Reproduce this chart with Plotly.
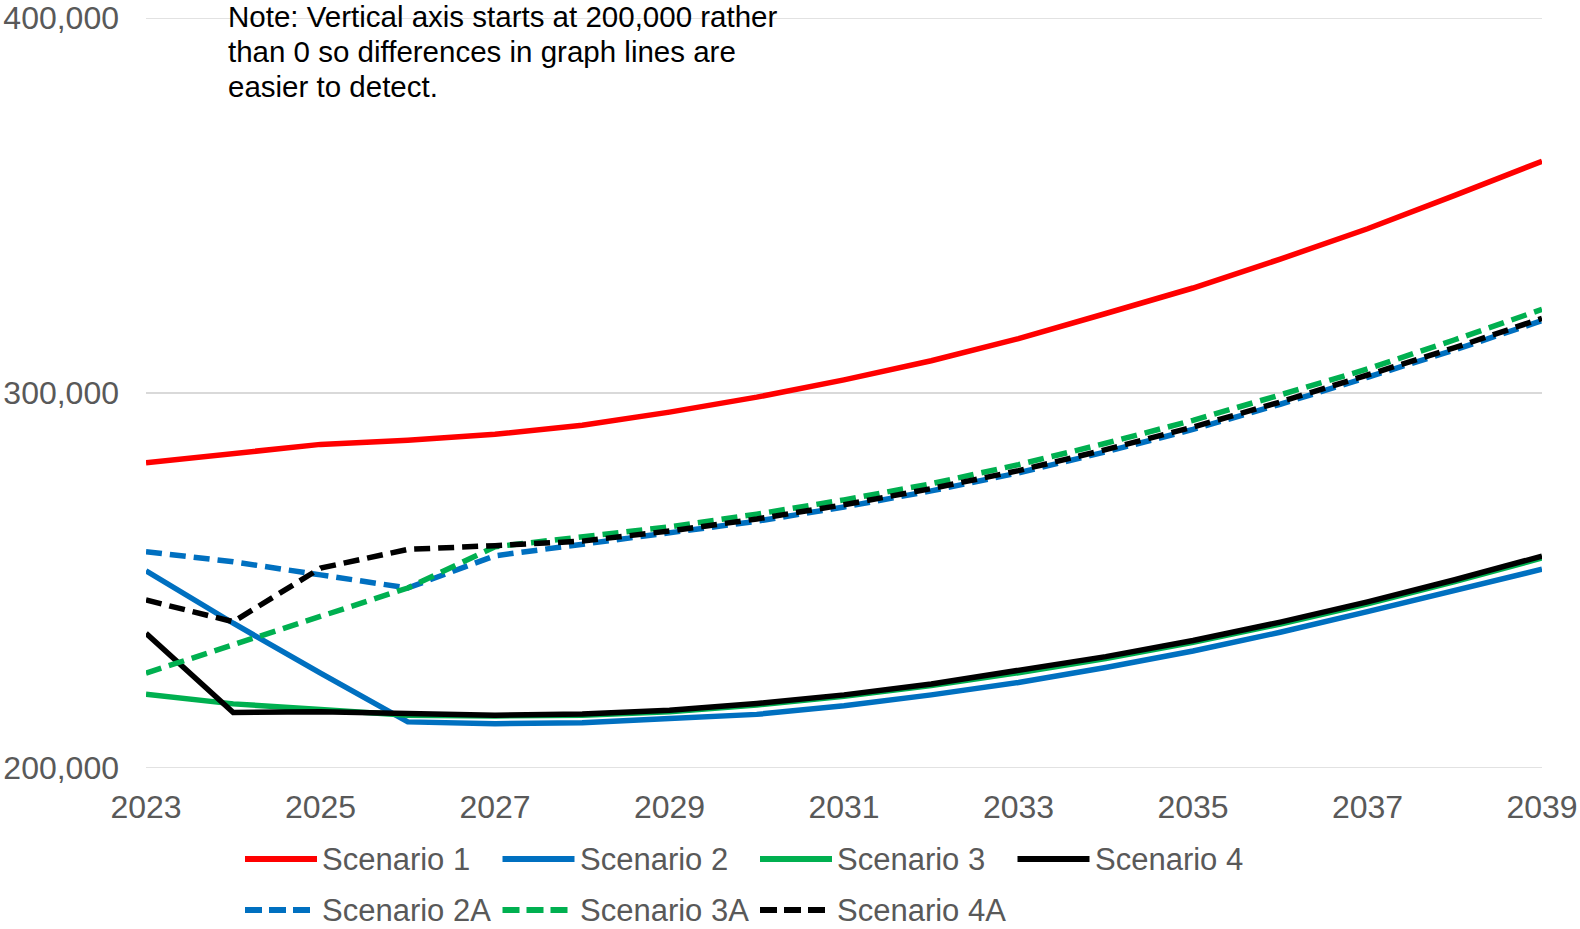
import plotly.graph_objects as go

years = list(range(2023, 2040))

scenario_1 = [281400, 283900, 286300, 287400, 289000, 291400, 294900, 298900, 303500,
              308600, 314500, 321200, 328000, 335700, 343800, 352700, 361800]
scenario_2 = [252600, 238600, 225300, 212300, 211800, 212100, 213200, 214300, 216600,
              219500, 222800, 226800, 231200, 236200, 241700, 247200, 253000]
scenario_3 = [219700, 217100, 215600, 214100, 213900, 214100, 215000, 216800, 219100,
              222000, 225400, 229200, 233500, 238400, 243800, 249700, 256000]
scenario_4 = [235900, 214800, 215000, 214400, 214100, 214400, 215400, 217200, 219500,
              222400, 225900, 229700, 234000, 238900, 244300, 250200, 256500]
scenario_2a = [257700, 255000, 251500, 248000, 256600, 259700, 262600, 265800, 269600,
               273900, 278700, 284300, 290300, 297000, 304200, 311500, 319300]
scenario_3a = [225300, 232800, 240400, 248000, 259000, 261800, 264300, 267700, 271500,
               275800, 280900, 286600, 292700, 299500, 306400, 314200, 322300]
scenario_4a = [244800, 239000, 253300, 258300, 259300, 260500, 263200, 266400, 270200,
               274500, 279300, 284900, 290900, 297600, 304800, 312100, 319900]

y_ticks = [200000, 300000, 400000]

RED, BLUE, GREEN, BLACK = "#FF0000", "#0070C0", "#00B050", "#000000"
DASH = "16px,8px"
FONT = "Liberation Sans, Arial, sans-serif"
GREY = "#595959"
GRID = "#D9D9D9"

series = [
    ("Scenario 1", scenario_1, RED, "solid"),
    ("Scenario 2", scenario_2, BLUE, "solid"),
    ("Scenario 3", scenario_3, GREEN, "solid"),
    ("Scenario 4", scenario_4, BLACK, "solid"),
    ("Scenario 2A", scenario_2a, BLUE, DASH),
    ("Scenario 3A", scenario_3a, GREEN, DASH),
    ("Scenario 4A", scenario_4a, BLACK, DASH),
]

W, H = 1580, 929
L, R, T, B = 146, 38, 18, 161
PW, PH = W - L - R, H - T - B


def px_x(px):
    return (px - L) / PW


def px_y(py):
    return (H - B - py) / PH


fig = go.Figure()
for name, vals, color, dash in series:
    fig.add_trace(go.Scatter(
        x=years, y=vals, mode="lines", name=name,
        line=dict(color=color, width=5.5, dash=dash),
        showlegend=False, hoverinfo="x+y+name",
    ))

shapes = []
annotations = []

# Horizontal gridlines (including the ones sitting on the range limits)
for v in y_ticks:
    shapes.append(dict(
        type="line", xref="paper", yref="y", x0=0, x1=1, y0=v, y1=v,
        line=dict(color=GRID, width=1.5), layer="below",
    ))

# Custom legend: two rows of line samples with labels
row_y = [859, 910]
col_x = [245, 502.5, 760, 1017.5]
legend_slots = [(0, 0), (0, 1), (0, 2), (0, 3), (1, 0), (1, 1), (1, 2)]
for (name, vals, color, dash), (row, col) in zip(series, legend_slots):
    x0 = col_x[col]
    y = row_y[row]
    sample_dash = "17px,7px" if dash != "solid" else "solid"
    shapes.append(dict(
        type="line", xref="paper", yref="paper",
        x0=px_x(x0), x1=px_x(x0 + 72), y0=px_y(y), y1=px_y(y),
        line=dict(color=color, width=6, dash=sample_dash),
    ))
    annotations.append(dict(
        xref="paper", yref="paper", x=px_x(x0 + 75), y=px_y(y),
        xanchor="left", yanchor="middle", showarrow=False,
        text=name, font=dict(family=FONT, size=31, color=GREY),
    ))

note_lines = [
    "Note: Vertical axis starts at 200,000 rather",
    "than 0 so differences in graph lines are",
    "easier to detect.",
]
for line_text, py in zip(note_lines, [17, 51.5, 86.5]):
    annotations.append(dict(
        xref="paper", yref="paper", x=px_x(226), y=px_y(py),
        xanchor="left", yanchor="middle", showarrow=False,
        text=line_text, font=dict(family=FONT, size=29.5, color="#000000"),
    ))

fig.update_layout(
    width=W, height=H, autosize=False,
    margin=dict(l=L, r=R, t=T, b=B, pad=0, autoexpand=False),
    paper_bgcolor="white", plot_bgcolor="white",
    font=dict(family=FONT, color=GREY),
    shapes=shapes, annotations=annotations,
    xaxis=dict(
        range=[2023, 2039], dtick=2, tick0=2023, automargin=False,
        showgrid=False, zeroline=False, showline=False,
        ticks="", ticklabelstandoff=17,
        tickfont=dict(family=FONT, size=32, color=GREY),
    ),
    yaxis=dict(
        range=[200000, 400000], tickvals=y_ticks, tickformat=",", automargin=False,
        showgrid=True, gridcolor=GRID, gridwidth=1.5,
        zeroline=False, showline=False,
        ticks="", ticklabelstandoff=26,
        tickfont=dict(family=FONT, size=32, color=GREY),
    ),
)

fig.write_html("out.html")
